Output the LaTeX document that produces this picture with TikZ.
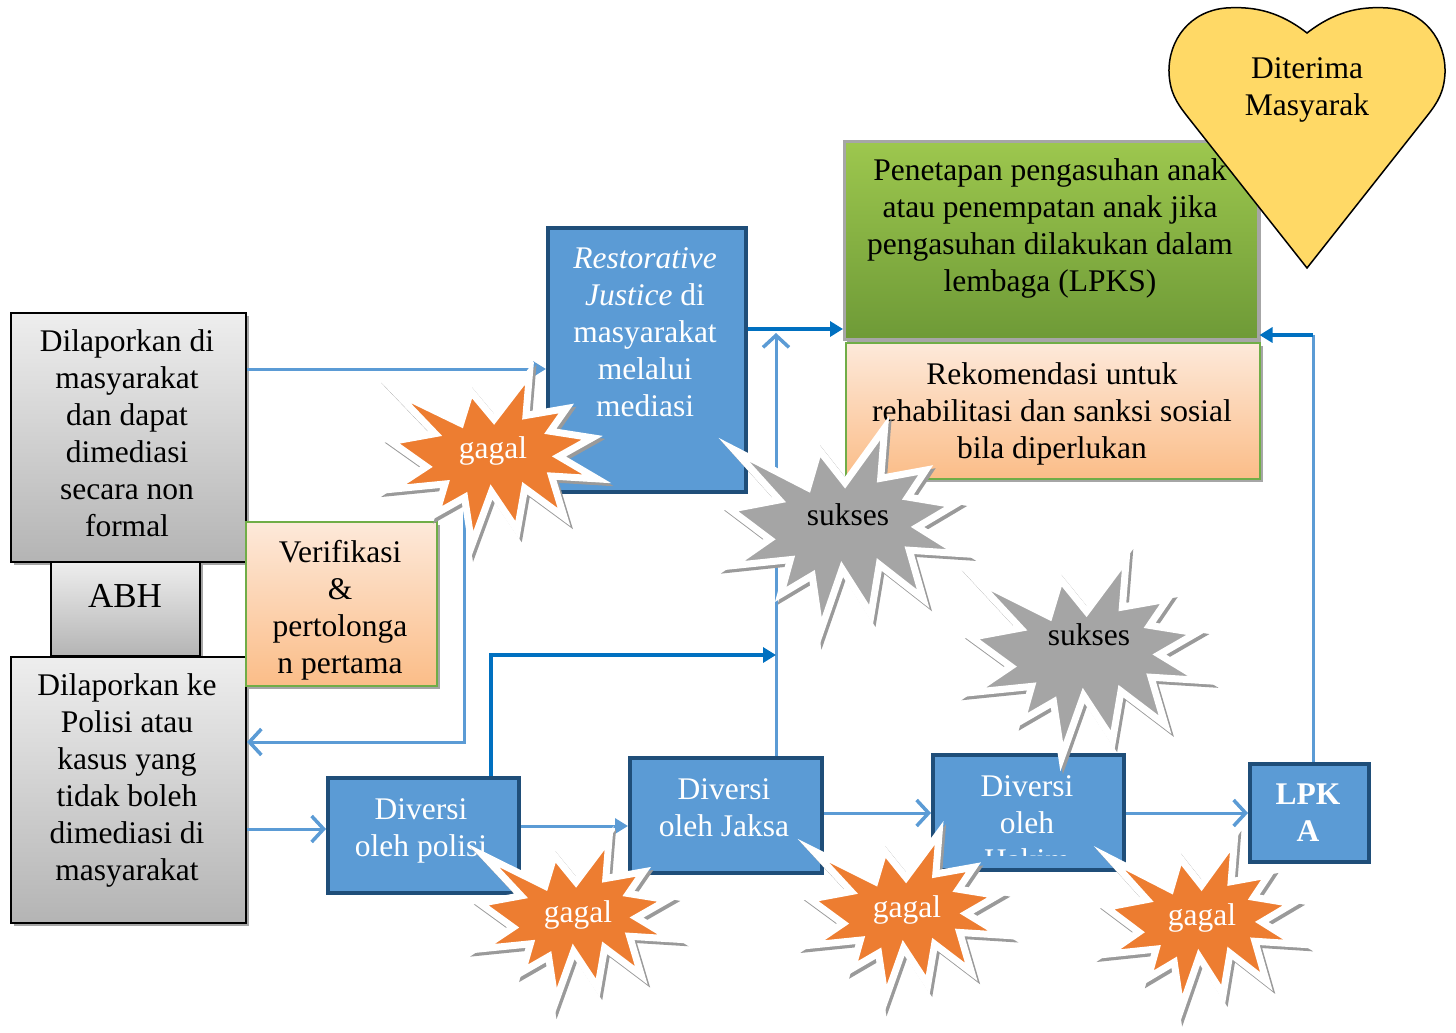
\documentclass[tikz,border=0pt]{standalone}
\usepackage{fontspec}
\setmainfont{Liberation Serif}
\usetikzlibrary{arrows.meta,shadows}
\definecolor{bluebox}{HTML}{5B9BD5}
\definecolor{blueedge}{HTML}{1F4E79}
\definecolor{arrowlight}{HTML}{5B9BD5}
\definecolor{arrowdark}{HTML}{0070C0}
\definecolor{orangestar}{HTML}{ED7D31}
\definecolor{graystar}{HTML}{A5A5A5}
\definecolor{starshadow}{HTML}{9A9A9A}
\definecolor{heartfill}{HTML}{FFD966}
\definecolor{peachtop}{HTML}{FDE9DA}
\definecolor{peachbot}{HTML}{FBBD88}
\definecolor{greentop}{HTML}{9DC74E}
\definecolor{greenbot}{HTML}{6E9A37}
\definecolor{greenedge}{HTML}{70AD47}
\definecolor{graytop}{HTML}{EEEEEE}
\definecolor{graybot}{HTML}{B4B4B4}
\newcommand\fs{\fontsize{31.5}{37}\selectfont}
\def\burstpath{(108,58) -- (145.22,0) -- (141.55,53.25) -- (183.80,44.57) -- (167.02,73.15) -- (210.97,81.37) -- (176.07,104.75) -- (216,132.90) -- (168.37,129.42) -- (181.45,180.95) -- (140.20,144.57) -- (132.47,197.37) -- (105.32,149.35) -- (84.85,216) -- (77.15,156.27) -- (47.62,176.17) -- (56.67,139.37) -- (1.35,145.87) -- (37.22,117.75) -- (0,86.15) -- (46.27,76.17) -- (3.70,22.95) -- (73.12,63.20) -- (83.52,22.95) -- cycle}
% #1 x0, #2 y0, #3 w, #4 h, #5 fill colour
\newcommand\burst[5]{%
  \begin{scope}[shift={(#1+2.5,#2+3)}, xscale=#3/216, yscale=#4/216]
    \filldraw[fill=starshadow, draw=starshadow, line width=7, miter limit=30] \burstpath;
  \end{scope}
  \begin{scope}[shift={(#1,#2)}, xscale=#3/216, yscale=#4/216]
    \filldraw[fill=#5, draw=white, line width=7, miter limit=30] \burstpath;
  \end{scope}}
\begin{document}
\begin{tikzpicture}[x=1pt,y=-1pt,
  boxshadow/.style={drop shadow={shadow xshift=3pt, shadow yshift=-3pt, fill=black!35, opacity=1}},
  graybox/.style={draw=black, line width=2, top color=graytop, bottom color=graybot, boxshadow, anchor=north west, inner sep=0},
  peachbox/.style={draw=greenedge, line width=1.5, top color=peachtop, bottom color=peachbot, boxshadow, anchor=north west, inner sep=0},
  greenbox/.style={draw=black!35, line width=2.5, top color=greentop, bottom color=greenbot, boxshadow, anchor=north west, inner sep=0},
  bluestyle/.style={draw=blueedge, line width=4, fill=bluebox, drop shadow={shadow xshift=2pt, shadow yshift=-2pt, fill=blueedge, opacity=1}, anchor=north west, inner sep=0},
  txt/.style={align=center, font=\fs, inner sep=0, execute at begin node=\strut, execute at end node=\strut},
  wtxt/.style={txt, text=white},
  lightarrow/.style={draw=arrowlight, line width=3},
  darkarrow/.style={draw=arrowdark, line width=3.5},
  openhead/.style={-{Straight Barb[length=12pt,width=26pt,line width=3.5pt]}},
  filledhead/.style={-{Triangle[length=13pt,width=15pt]}}
]
\useasboundingbox (0,0) rectangle (1456,1033);

% boxes
\node[graybox, minimum width=235, minimum height=249] (rep1) at (10,312) {};
\node[graybox, minimum width=149, minimum height=94] (abh) at (50,561) {};
\node[graybox, minimum width=235, minimum height=266] (rep2) at (10,656) {};
\node[peachbox, minimum width=191, minimum height=164] (verif) at (245,521) {};
\node[bluestyle, minimum width=198, minimum height=264] (rj) at (546,226) {};
\node[greenbox, minimum width=414, minimum height=198] (lpks) at (843,140) {};
\node[peachbox, minimum width=414, minimum height=136] (rek) at (845,342) {};
\node[bluestyle, minimum width=191, minimum height=115] (polisi) at (326,776) {};
\node[bluestyle, minimum width=192, minimum height=115] (jaksa) at (628,756) {};
\node[bluestyle, minimum width=191, minimum height=115] (hakim) at (931,753) {};
\node[bluestyle, minimum width=119, minimum height=98] (lpka) at (1248,762) {};

% heart
\filldraw[fill=heartfill, draw=black, line width=1.5]
  (1307,33) .. controls (1280,12) and (1255,6) .. (1226,8)
  .. controls (1190,11) and (1168,40) .. (1169,73)
  .. controls (1170,92) and (1176,102) .. (1187,116)
  -- (1307,268) -- (1427,116)
  .. controls (1438,102) and (1444,92) .. (1445,73)
  .. controls (1446,40) and (1424,11) .. (1388,8)
  .. controls (1359,6) and (1334,12) .. (1307,33) -- cycle;
\node[txt] (heartt) at (1307,92) {Diterima\\Masyarak};

% texts
\node[txt] (t1) at (127,439) {Dilaporkan di\\masyarakat\\dan dapat\\dimediasi\\secara non\\formal};
\node[align=center, inner sep=0, font=\fontsize{35}{40}\selectfont, execute at begin node=\strut] (tabh) at (125,599) {ABH};
\node[txt] (t3) at (127,783) {Dilaporkan ke\\Polisi atau\\kasus yang\\tidak boleh\\dimediasi di\\masyarakat};
\begin{scope}
  \clip (246,522) rectangle (435,683);
  \node[txt] (tverif) at (340,612) {Verifikasi\\\&\\pertolonga\\n pertama};
\end{scope}
\node[wtxt] (trj) at (645,337.5) {\textit{Restorative}\\\textit{Justice} di\\masyarakat\\melalui\\mediasi};
\node[txt] (tlpks) at (1050,231) {Penetapan pengasuhan anak\\atau penempatan anak jika\\pengasuhan dilakukan dalam\\lembaga (LPKS)};
\node[txt] (trek) at (1052,416) {Rekomendasi untuk\\rehabilitasi dan sanksi sosial\\bila diperlukan};
\node[wtxt] (tpol) at (421,833) {Diversi\\oleh polisi};
\node[wtxt] (tjak) at (724,813) {Diversi\\oleh Jaksa};
\begin{scope}
  \clip (933,755) rectangle (1120,855);
  \node[wtxt] (thak) at (1027,829) {Diversi\\oleh\\Hakim};
\end{scope}
\node[wtxt, font=\fs\bfseries] (tlpka) at (1308,818) {LPK\\A};

% connectors
\coordinate (jtop) at (776,333);
\coordinate (lpkacorner) at (1313,335);
\coordinate (failtop) at (464,480);
\draw[lightarrow, filledhead] (rep1.east |- 0,369) -- (rj.west |- 0,369);
\draw[darkarrow, filledhead] (rj.east |- 0,329) -- (lpks.west |- 0,329);
\draw[lightarrow, openhead] (jaksa.north -| jtop) -- (jtop);
\draw[darkarrow, filledhead] (polisi.north -| 491,0) |- (jtop |- 0,655);
\draw[lightarrow, openhead] (failtop) |- (rep2.east |- 0,742);
\draw[lightarrow, openhead] (rep2.east |- 0,829) -- (polisi.west |- 0,829);
\draw[lightarrow, filledhead] (polisi.east |- 0,826) -- (jaksa.west |- 0,826);
\draw[lightarrow, openhead] (jaksa.east |- 0,813) -- (hakim.west |- 0,813);
\draw[lightarrow, openhead] (hakim.east |- 0,813) -- (lpka.west |- 0,813);
\draw[lightarrow] (lpka.north -| lpkacorner) -- (lpkacorner);
\draw[darkarrow, filledhead] (lpkacorner) -- (lpks.east |- lpkacorner);

% bursts
\burst{391}{373}{206}{172}{orangestar}
\node[wtxt] (g1) at (493,451) {gagal};
\burst{730}{428}{230}{204}{graystar}
\node[txt] (s1) at (848,518) {sukses};
\burst{971}{558}{231}{199}{graystar}
\node[txt] (s2) at (1089,638) {sukses};
\burst{480}{838}{192}{164}{orangestar}
\node[wtxt] (g2) at (578,915) {gagal};
\burst{810}{833}{192}{166}{orangestar}
\node[wtxt] (g3) at (907,910) {gagal};
\burst{1106}{840}{191}{169}{orangestar}
\node[wtxt] (g4) at (1202,918) {gagal};
\end{tikzpicture}
\end{document}
